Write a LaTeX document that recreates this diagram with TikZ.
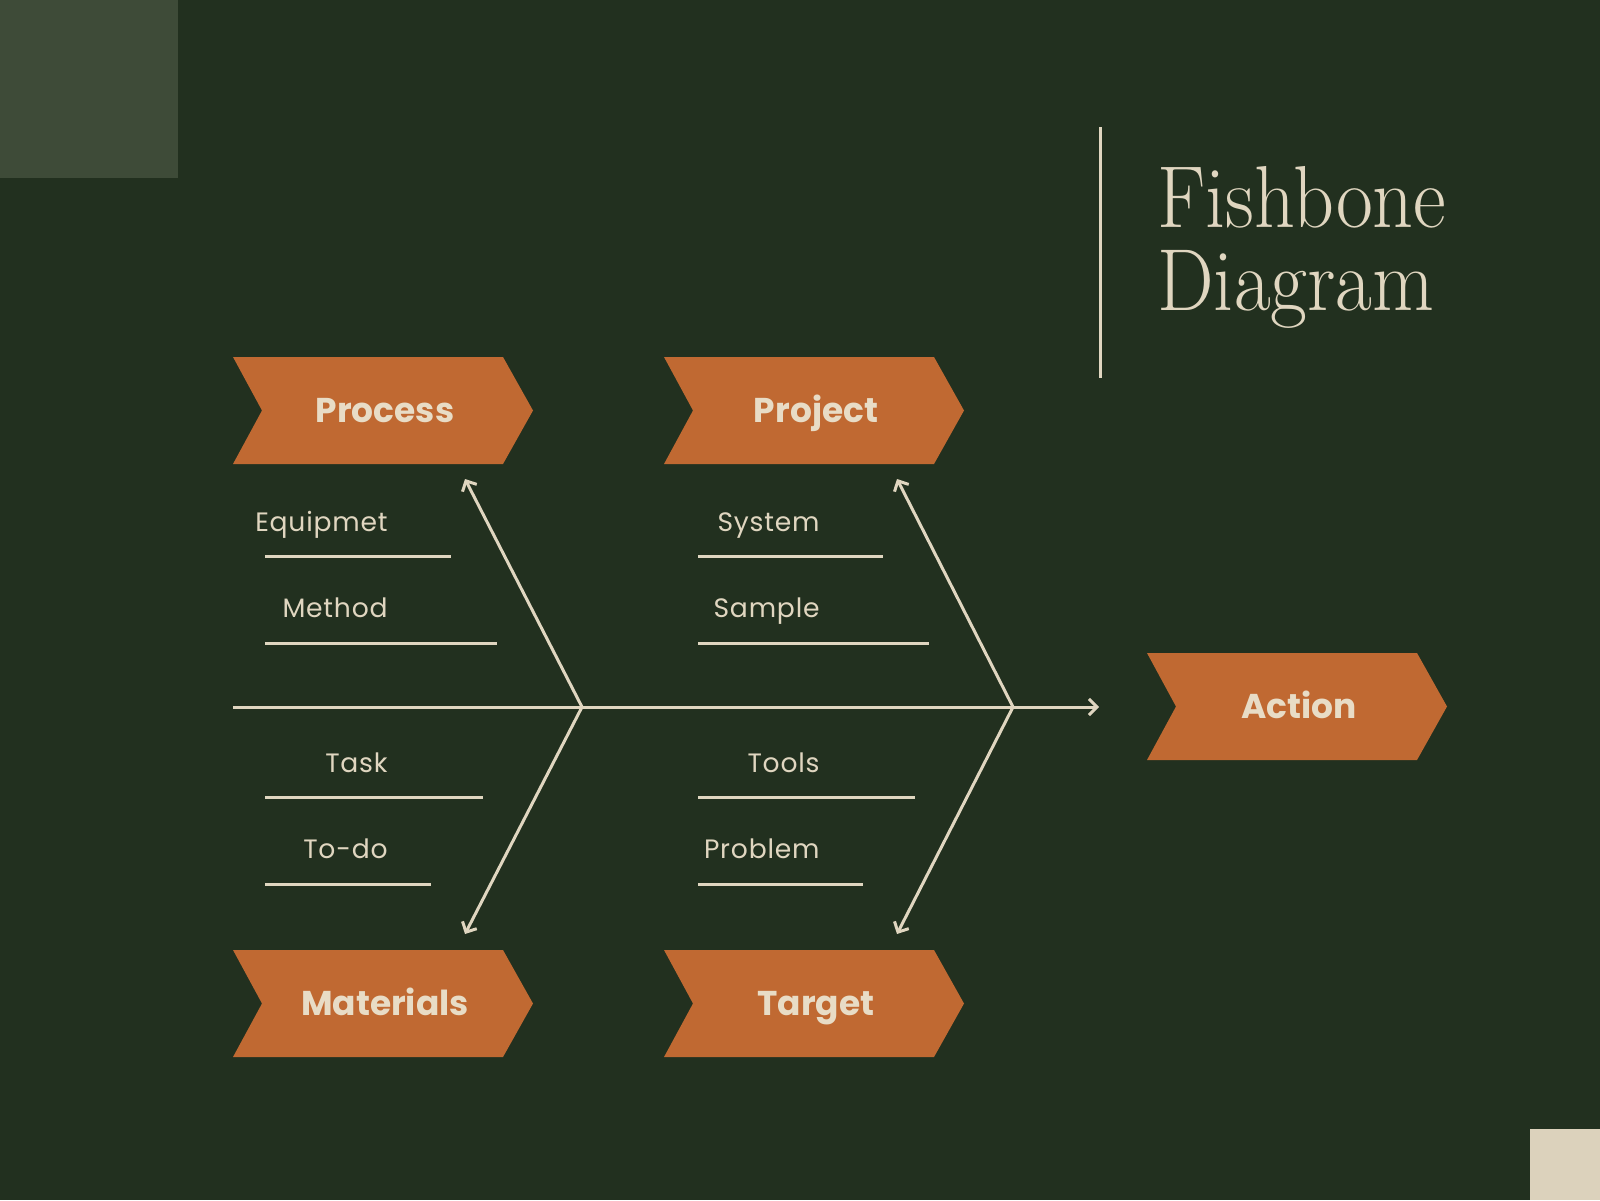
\documentclass[tikz,border=0pt]{standalone}
\usepackage{fontspec}
\newfontfamily\headfont{Poppins}
\newfontfamily\itemfont{Poppins}[LetterSpace=3]
\usetikzlibrary{arrows.meta}
\definecolor{bggreen}{HTML}{22301F}
\definecolor{sqgreen}{HTML}{3E4B38}
\definecolor{cream}{HTML}{E0D6C0}
\definecolor{creamsq}{HTML}{DCD2BC}
\definecolor{rust}{HTML}{C06932}
\definecolor{labeltxt}{HTML}{E8DCC6}
\tikzset{
  chevron/.pic={\fill[rust] (0,0) -- (270,0) -- (300,53.5) -- (270,107) -- (0,107) -- (29,53.5) -- cycle;},
  cattext/.style={anchor=base, text=labeltxt, font=\headfont\bfseries\fontsize{17.2}{20}\selectfont, inner sep=0pt},
  itemtext/.style={anchor=base east, text=cream, font=\itemfont\fontsize{13.3}{15}\selectfont, inner sep=0pt},
  itemline/.style={draw=cream, line width=1.5pt},
  bone/.style={draw=cream, line width=1.5pt},
  bonearrow/.style={bone, -{Straight Barb[length=4pt,width=8pt]}},
  titletext/.style={anchor=base west, text=cream, font=\fontsize{44}{48}\selectfont, xscale=0.91, inner sep=0pt}
}
\begin{document}
\begin{tikzpicture}[x=0.5pt,y=-0.5pt]
\fill[bggreen] (0,0) rectangle (1600,1200);
\useasboundingbox (0,0) rectangle (1600,1200);
\fill[sqgreen] (0,0) rectangle (178,178);
\fill[creamsq] (1530,1129) rectangle (1600,1200);
% title
\coordinate (vt) at (1100,127);
\coordinate (vb) at (1100,378);
\draw[cream, line width=1.5pt] (vt) -- (vb);
\node[titletext] (title1) at (1157,227) {Fishbone};
\node[titletext] (title2) at (1157,310) {Diagram};
% chevrons
\pic at (233,357) {chevron};
\pic at (664,357) {chevron};
\pic at (233,950) {chevron};
\pic at (664,950) {chevron};
\pic at (1147,653) {chevron};
\node[cattext] (process) at (385,422) {Process};
\node[cattext] (project) at (816,422) {Project};
\node[cattext] (materials) at (385,1015) {Materials};
\node[cattext] (target) at (816,1015) {Target};
\node[cattext] (action) at (1299,718) {Action};
% spine
\coordinate (tail) at (233,707);
\coordinate (j1) at (582,707);
\coordinate (j2) at (1013,707);
\coordinate (head) at (1099,707);
\draw[bonearrow] (tail) -- (head);
\coordinate (a1) at (465,479);
\coordinate (a2) at (465,934);
\coordinate (a3) at (897,479);
\coordinate (a4) at (897,934);
\draw[bonearrow] (j1) -- (a1);
\draw[bonearrow] (j1) -- (a2);
\draw[bonearrow] (j2) -- (a3);
\draw[bonearrow] (j2) -- (a4);
% left items
\node[itemtext] (equip) at (388,531) {Equipmet};
\node[itemtext] (method) at (388,617) {Method};
\node[itemtext] (task) at (388,772) {Task};
\node[itemtext] (todo) at (388,858) {To-do};
\draw[itemline] (265,556) -- (451,556);
\draw[itemline] (265,643) -- (497,643);
\draw[itemline] (265,797) -- (483,797);
\draw[itemline] (265,884) -- (431,884);
% right items
\node[itemtext] (system) at (820,531) {System};
\node[itemtext] (sample) at (820,617) {Sample};
\node[itemtext] (tools) at (820,772) {Tools};
\node[itemtext] (problem) at (820,858) {Problem};
\draw[itemline] (698,556) -- (883,556);
\draw[itemline] (698,643) -- (929,643);
\draw[itemline] (698,797) -- (915,797);
\draw[itemline] (698,884) -- (863,884);
\end{tikzpicture}
\end{document}
